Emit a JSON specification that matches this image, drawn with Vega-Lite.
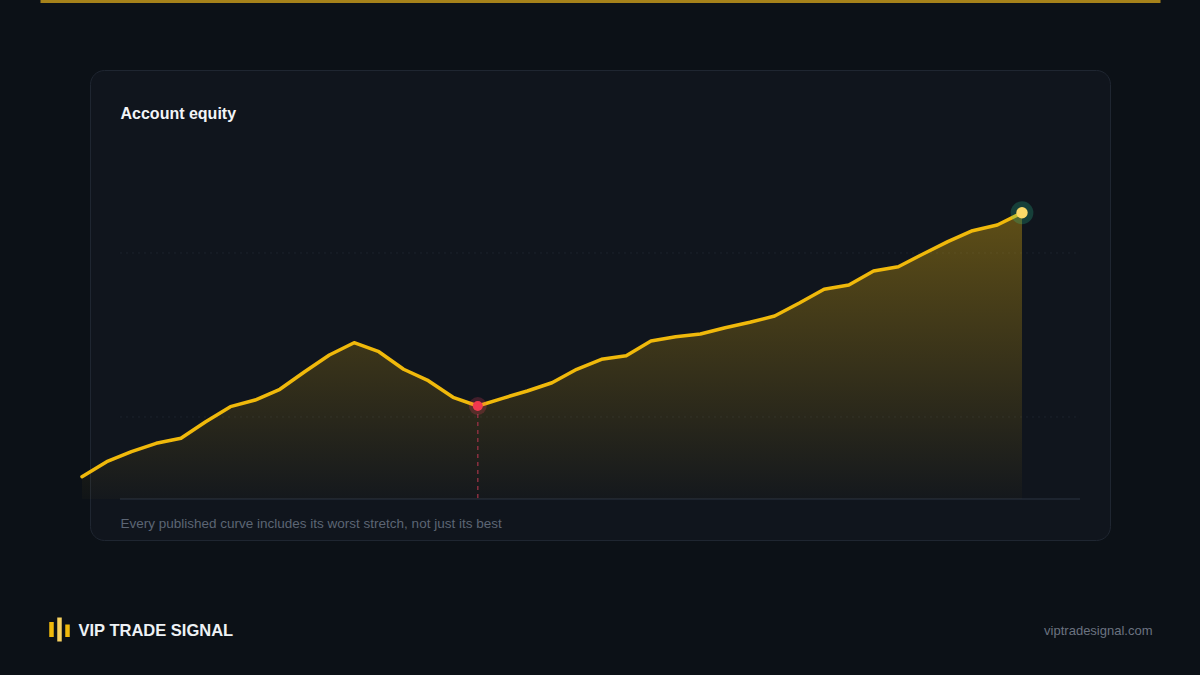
{
  "$schema": "https://vega.github.io/schema/vega-lite/v6.json",
  "width": 1020,
  "height": 470,
  "autosize": {"type": "none"},
  "padding": {"left": 90, "top": 70, "right": 90, "bottom": 135},
  "background": "#0c1117",
  "config": {"view": {"fill": "#10151d", "stroke": "#1f2631", "strokeWidth": 1, "cornerRadius": 14}},
  "data": {"values": [
    {"day": 0, "equity": 10272}, {"day": 1, "equity": 10455}, {"day": 2, "equity": 10577}, {"day": 3, "equity": 10679},
    {"day": 4, "equity": 10740}, {"day": 5, "equity": 10943}, {"day": 6, "equity": 11126}, {"day": 7, "equity": 11207},
    {"day": 8, "equity": 11338}, {"day": 9, "equity": 11552}, {"day": 10, "equity": 11756}, {"day": 11, "equity": 11906},
    {"day": 12, "equity": 11796}, {"day": 13, "equity": 11582}, {"day": 14, "equity": 11443}, {"day": 15, "equity": 11240},
    {"day": 16, "equity": 11134}, {"day": 17, "equity": 11228}, {"day": 18, "equity": 11317}, {"day": 19, "equity": 11418},
    {"day": 20, "equity": 11582}, {"day": 21, "equity": 11704}, {"day": 22, "equity": 11748}, {"day": 23, "equity": 11927},
    {"day": 24, "equity": 11979}, {"day": 25, "equity": 12012}, {"day": 26, "equity": 12089}, {"day": 27, "equity": 12155},
    {"day": 28, "equity": 12232}, {"day": 29, "equity": 12390}, {"day": 30, "equity": 12557}, {"day": 31, "equity": 12610},
    {"day": 32, "equity": 12780}, {"day": 33, "equity": 12833}, {"day": 34, "equity": 12988}, {"day": 35, "equity": 13138},
    {"day": 36, "equity": 13272}, {"day": 37, "equity": 13341}, {"day": 38, "equity": 13491}
  ]},
  "resolve": {"axis": {"x": "independent", "y": "independent"}},
  "layer": [
    {
      "data": {"values": [{}]},
      "mark": {"type": "rule", "color": "#1c232d", "strokeWidth": 1, "strokeDash": [2, 4]},
      "encoding": {
        "x": {"datum": 1.536, "type": "quantitative", "scale": {"domain": [-1.6979, 43.579], "range": [-50, 1070], "nice": false, "zero": false}, "axis": null},
        "x2": {"datum": 40.345},
        "y": {"datum": 13000, "type": "quantitative", "scale": {"domain": [9500, 15231.7], "nice": false, "zero": false}, "axis": null}
      }
    },
    {
      "data": {"values": [{}]},
      "mark": {"type": "rule", "color": "#1c232d", "strokeWidth": 1, "strokeDash": [2, 4]},
      "encoding": {
        "x": {"datum": 1.536, "type": "quantitative", "scale": {"domain": [-1.6979, 43.579], "range": [-50, 1070], "nice": false, "zero": false}, "axis": null},
        "x2": {"datum": 40.345},
        "y": {"datum": 11000, "type": "quantitative", "scale": {"domain": [9500, 15231.7], "nice": false, "zero": false}, "axis": null}
      }
    },
    {
      "data": {"values": [{}]},
      "mark": {"type": "rule", "color": "#222a36", "strokeWidth": 1.5},
      "encoding": {
        "x": {"datum": 1.536, "type": "quantitative", "scale": {"domain": [-1.6979, 43.579], "range": [-50, 1070], "nice": false, "zero": false}, "axis": null},
        "x2": {"datum": 40.345},
        "y": {"datum": 10000, "type": "quantitative", "scale": {"domain": [9500, 15231.7], "nice": false, "zero": false}, "axis": null}
      }
    },
    {
      "mark": {"type": "area", "interpolate": "linear",
        "color": {"gradient": "linear", "x1": 0, "y1": 0, "x2": 0, "y2": 1,
          "stops": [{"offset": 0, "color": "rgba(240,185,11,0.35)"}, {"offset": 1, "color": "rgba(240,185,11,0.02)"}]}},
      "encoding": {
        "x": {"field": "day", "type": "quantitative",
          "scale": {"domain": [-1.6979, 43.579], "range": [-50, 1070], "nice": false, "zero": false},
          "axis": {"orient": "bottom", "offset": 77, "domain": false, "labels": false, "grid": false,
            "ticks": true, "values": [-1.2613, -0.95, -0.6185], "tickSize": 24, "tickWidth": 4.5,
            "tickColor": {"condition": {"test": "datum.value > -1.1 && datum.value < -0.8", "value": "#f6d160"}, "value": "#f0b90b"},
            "tickDash": {"condition": [{"test": "datum.value < -1.1", "value": [0, 4.5, 15, 100]}, {"test": "datum.value > -0.8", "value": [0, 7, 12.5, 100]}], "value": [24, 0]},
            "title": "Every published curve includes its worst stretch, not just its best",
            "titleX": 30, "titleY": -89.5, "titleAlign": "left", "titleAnchor": "start", "titleBaseline": "alphabetic",
            "titleFont": "Liberation Sans", "titleFontSize": 13.5, "titleFontWeight": "normal", "titleColor": "#5c6574"}},
        "y": {"field": "equity", "type": "quantitative",
          "scale": {"domain": [9500, 15231.7], "nice": false, "zero": false},
          "axis": {"orient": "left", "offset": 0, "domain": false, "labels": false, "ticks": false, "grid": false,
            "title": "VIP TRADE SIGNAL", "titleAngle": 0, "titleX": -12, "titleY": 565, "titleAlign": "left", "titleBaseline": "alphabetic",
            "titleFont": "Liberation Sans", "titleFontSize": 16.5, "titleFontWeight": "bold", "titleColor": "#eef1f5"}},
        "y2": {"datum": 10000}
      }
    },
    {
      "transform": [{"filter": "datum.day == 16"}],
      "mark": {"type": "rule", "color": "#8a3040", "strokeWidth": 1.5, "strokeDash": [4, 4]},
      "encoding": {
        "x": {"field": "day", "type": "quantitative", "scale": {"domain": [-1.6979, 43.579], "range": [-50, 1070], "nice": false, "zero": false}, "axis": null},
        "y": {"field": "equity", "type": "quantitative", "scale": {"domain": [9500, 15231.7], "nice": false, "zero": false}, "axis": null},
        "y2": {"datum": 10000}
      }
    },
    {
      "mark": {"type": "line", "color": "#f0b90b", "strokeWidth": 3.5, "strokeJoin": "round", "strokeCap": "round", "interpolate": "linear"},
      "encoding": {
        "x": {"field": "day", "type": "quantitative",
          "scale": {"domain": [-1.6979, 43.579], "range": [-50, 1070], "nice": false, "zero": false},
          "axis": {"orient": "top", "offset": 69, "domain": true, "domainColor": "#d9a81c", "domainWidth": 3, "domainOpacity": 0.75,
            "labels": false, "ticks": false, "grid": false,
            "title": "Account equity", "titleX": 30, "titleY": 117, "titleAlign": "left", "titleAnchor": "start", "titleBaseline": "alphabetic",
            "titleFont": "Liberation Sans", "titleFontSize": 16, "titleFontWeight": "bold", "titleColor": "#f2f4f7"}},
        "y": {"field": "equity", "type": "quantitative",
          "scale": {"domain": [9500, 15231.7], "nice": false, "zero": false},
          "axis": {"orient": "right", "offset": 0, "domain": false, "labels": false, "ticks": false, "grid": false,
            "title": "viptradesignal.com", "titleAngle": 0, "titleX": 42, "titleY": 564, "titleAlign": "right", "titleBaseline": "alphabetic",
            "titleFont": "Liberation Sans", "titleFontSize": 13, "titleFontWeight": "normal", "titleColor": "#6b7380"}}
      }
    },
    {
      "transform": [{"filter": "datum.day == 16"}],
      "mark": {"type": "point", "filled": true, "color": "#f43f5e", "size": 320, "opacity": 0.22, "strokeWidth": 0},
      "encoding": {
        "x": {"field": "day", "type": "quantitative", "scale": {"domain": [-1.6979, 43.579], "range": [-50, 1070], "nice": false, "zero": false}, "axis": null},
        "y": {"field": "equity", "type": "quantitative", "scale": {"domain": [9500, 15231.7], "nice": false, "zero": false}, "axis": null}
      }
    },
    {
      "transform": [{"filter": "datum.day == 16"}],
      "mark": {"type": "point", "filled": true, "color": "#f0384f", "size": 100, "opacity": 1, "strokeWidth": 0},
      "encoding": {
        "x": {"field": "day", "type": "quantitative", "scale": {"domain": [-1.6979, 43.579], "range": [-50, 1070], "nice": false, "zero": false}, "axis": null},
        "y": {"field": "equity", "type": "quantitative", "scale": {"domain": [9500, 15231.7], "nice": false, "zero": false}, "axis": null}
      }
    },
    {
      "transform": [{"filter": "datum.day == 38"}],
      "mark": {"type": "point", "filled": true, "color": "#2dd4a0", "size": 520, "opacity": 0.22, "strokeWidth": 0},
      "encoding": {
        "x": {"field": "day", "type": "quantitative", "scale": {"domain": [-1.6979, 43.579], "range": [-50, 1070], "nice": false, "zero": false}, "axis": null},
        "y": {"field": "equity", "type": "quantitative", "scale": {"domain": [9500, 15231.7], "nice": false, "zero": false}, "axis": null}
      }
    },
    {
      "transform": [{"filter": "datum.day == 38"}],
      "mark": {"type": "point", "filled": true, "color": "#fcd968", "size": 130, "opacity": 1, "strokeWidth": 0},
      "encoding": {
        "x": {"field": "day", "type": "quantitative", "scale": {"domain": [-1.6979, 43.579], "range": [-50, 1070], "nice": false, "zero": false}, "axis": null},
        "y": {"field": "equity", "type": "quantitative", "scale": {"domain": [9500, 15231.7], "nice": false, "zero": false}, "axis": null}
      }
    }
  ]
}
